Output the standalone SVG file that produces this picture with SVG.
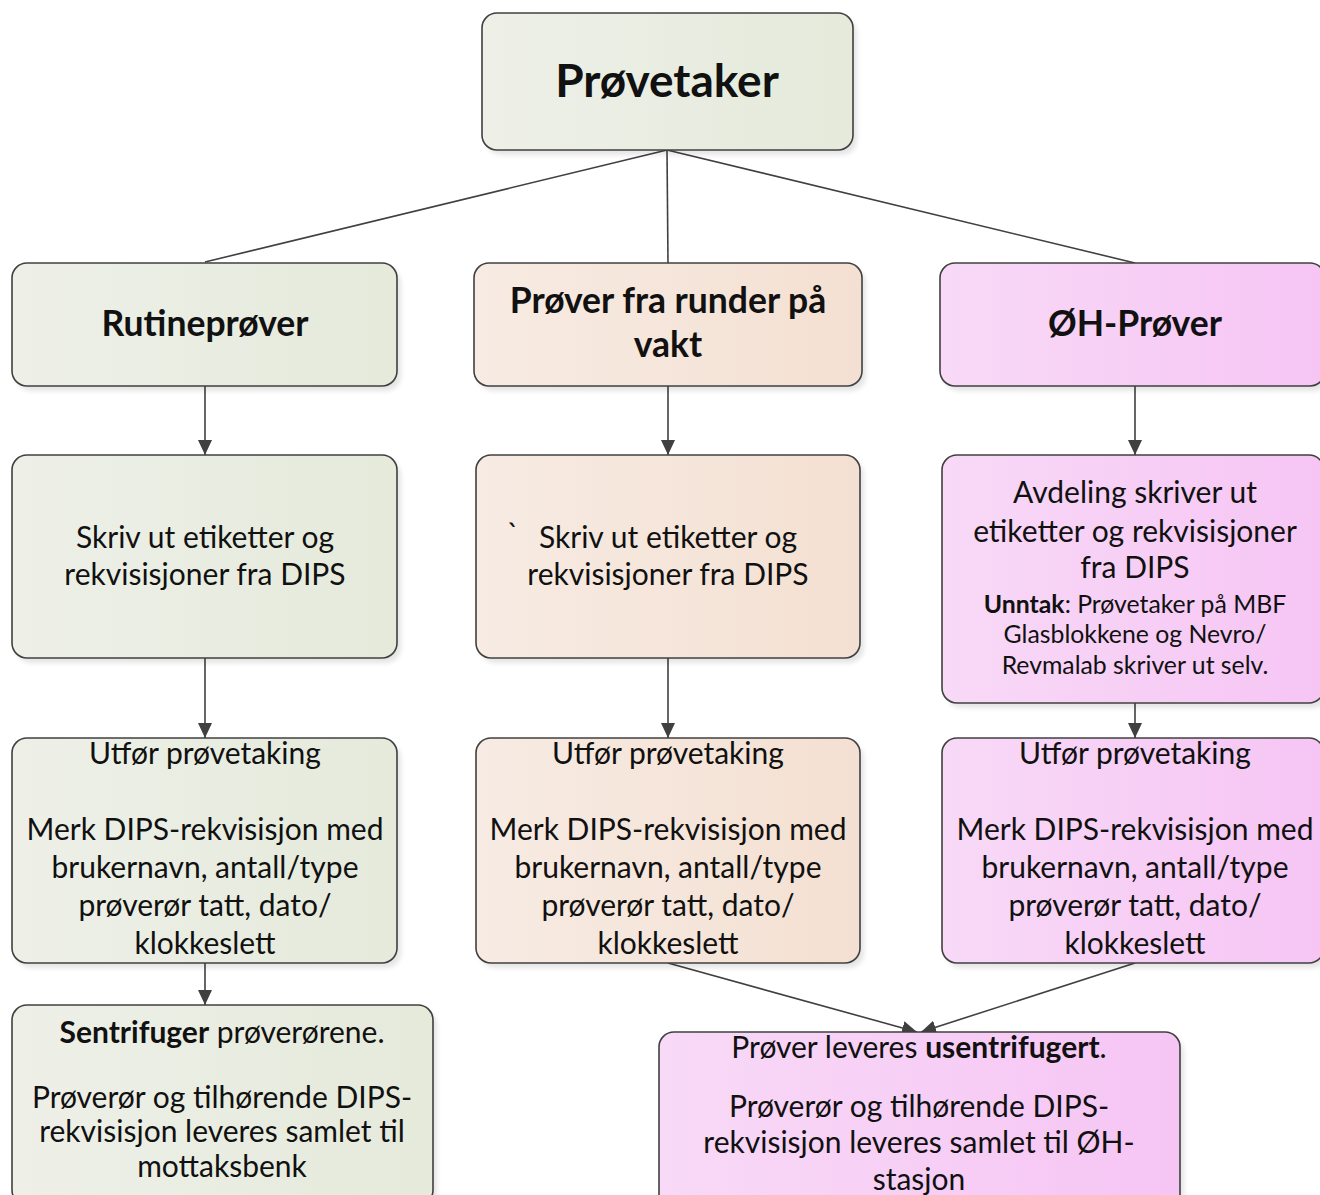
<svg xmlns="http://www.w3.org/2000/svg" width="1320" height="1195" viewBox="0 0 1320 1195">
<style>
.box{stroke:#404040;stroke-width:1.6}
.g{fill:url(#gGreen)}
.p{fill:url(#gPeach)}
.k{fill:url(#gPink)}
.sh{fill:#000;opacity:0.10;filter:url(#blur)}
text{font-family:Lato,"Noto Sans",sans-serif;fill:#111;text-anchor:middle}
.t{font-size:30px}
.s{font-size:24.8px}
.b{font-weight:bold}
.h1{font-size:46px;font-weight:bold}
.h2{font-size:35.5px;font-weight:bold}
.c{stroke:#404040;stroke-width:1.6;fill:none}
</style>
<defs>
<linearGradient id="gGreen" x1="0" y1="0" x2="1" y2="0"><stop offset="0" stop-color="#eef0e8"/><stop offset="1" stop-color="#e5eadb"/></linearGradient>
<linearGradient id="gPeach" x1="0" y1="0" x2="1" y2="0"><stop offset="0" stop-color="#f7ebe3"/><stop offset="1" stop-color="#f4e0d2"/></linearGradient>
<linearGradient id="gPink" x1="0" y1="0" x2="1" y2="0"><stop offset="0" stop-color="#f8d9f7"/><stop offset="1" stop-color="#f6c5f4"/></linearGradient>
<filter id="blur" x="-10%" y="-10%" width="120%" height="120%"><feGaussianBlur stdDeviation="2.5"/></filter>
<marker id="arr" markerUnits="userSpaceOnUse" markerWidth="16" markerHeight="16" viewBox="0 0 16 16" refX="15" refY="8" orient="auto"><path d="M0,1 L15,8 L0,15 Z" fill="#404040"/></marker>
</defs>

<g id="connectors">
<path class="c" d="M667,150 L205,262"/>
<path class="c" d="M667,150 L668,263"/>
<path class="c" d="M667,150 L1135,263"/>
<path class="c" marker-end="url(#arr)" d="M205,386 L205,455"/>
<path class="c" marker-end="url(#arr)" d="M668,386 L668,455"/>
<path class="c" marker-end="url(#arr)" d="M1135,386 L1135,455"/>
<path class="c" marker-end="url(#arr)" d="M205,658 L205,738"/>
<path class="c" marker-end="url(#arr)" d="M668,658 L668,738"/>
<path class="c" marker-end="url(#arr)" d="M1135,703 L1135,738"/>
<path class="c" marker-end="url(#arr)" d="M205,963 L205,1005"/>
<path class="c" marker-end="url(#arr)" d="M668,963 L917,1032"/>
<path class="c" marker-end="url(#arr)" d="M1135,963 L921,1032"/>
</g>

<g id="n-provetaker">
<rect class="sh" x="486" y="18" width="371" height="137" rx="15"/>
<rect class="box g" x="482" y="13" width="371" height="137" rx="15"/>
<text class="h1" x="667" y="97">Prøvetaker</text>
</g>

<g id="n-rutine">
<rect class="sh" x="16" y="268" width="385" height="123" rx="15"/>
<rect class="box g" x="12" y="263" width="385" height="123" rx="15"/>
<text class="h2" x="205" y="336">Rutineprøver</text>
</g>

<g id="n-runder">
<rect class="sh" x="478" y="268" width="388" height="123" rx="15"/>
<rect class="box p" x="474" y="263" width="388" height="123" rx="15"/>
<text class="h2" x="668" y="313">Prøver fra runder på</text>
<text class="h2" x="668" y="357">vakt</text>
</g>

<g id="n-oh">
<rect class="sh" x="944" y="268" width="385" height="123" rx="15"/>
<rect class="box k" x="940" y="263" width="385" height="123" rx="15"/>
<text class="h2" x="1135" y="336">ØH-Prøver</text>
</g>

<g id="n-skriv1">
<rect class="sh" x="16" y="460" width="385" height="203" rx="15"/>
<rect class="box g" x="12" y="455" width="385" height="203" rx="15"/>
<text class="t" x="205" y="548">Skriv ut etiketter og</text>
<text class="t" x="205" y="585">rekvisisjoner fra DIPS</text>
</g>

<g id="n-skriv2">
<rect class="sh" x="480" y="460" width="384" height="203" rx="15"/>
<rect class="box p" x="476" y="455" width="384" height="203" rx="15"/>
<text class="t" x="513" y="545">`</text>
<text class="t" x="668" y="548">Skriv ut etiketter og</text>
<text class="t" x="668" y="585">rekvisisjoner fra DIPS</text>
</g>

<g id="n-avdeling">
<rect class="sh" x="946" y="460" width="382" height="248" rx="15"/>
<rect class="box k" x="942" y="455" width="382" height="248" rx="15"/>
<text class="t" x="1135" y="503">Avdeling skriver ut</text>
<text class="t" x="1135" y="542">etiketter og rekvisisjoner</text>
<text class="t" x="1135" y="578">fra DIPS</text>
<text class="s" x="1135" y="613"><tspan class="b">Unntak</tspan>: Prøvetaker på MBF</text>
<text class="s" x="1135" y="643">Glasblokkene og Nevro/</text>
<text class="s" x="1135" y="674">Revmalab skriver ut selv.</text>
</g>

<g id="n-utfor1">
<rect class="sh" x="16" y="743" width="385" height="225" rx="15"/>
<rect class="box g" x="12" y="738" width="385" height="225" rx="15"/>
<text class="t" x="205" y="764">Utfør prøvetaking</text>
<text class="t" x="205" y="840">Merk DIPS-rekvisisjon med</text>
<text class="t" x="205" y="878">brukernavn, antall/type</text>
<text class="t" x="205" y="916">prøverør tatt, dato/</text>
<text class="t" x="205" y="954">klokkeslett</text>
</g>

<g id="n-utfor2">
<rect class="sh" x="480" y="743" width="384" height="225" rx="15"/>
<rect class="box p" x="476" y="738" width="384" height="225" rx="15"/>
<text class="t" x="668" y="764">Utfør prøvetaking</text>
<text class="t" x="668" y="840">Merk DIPS-rekvisisjon med</text>
<text class="t" x="668" y="878">brukernavn, antall/type</text>
<text class="t" x="668" y="916">prøverør tatt, dato/</text>
<text class="t" x="668" y="954">klokkeslett</text>
</g>

<g id="n-utfor3">
<rect class="sh" x="946" y="743" width="382" height="225" rx="15"/>
<rect class="box k" x="942" y="738" width="382" height="225" rx="15"/>
<text class="t" x="1135" y="764">Utfør prøvetaking</text>
<text class="t" x="1135" y="840">Merk DIPS-rekvisisjon med</text>
<text class="t" x="1135" y="878">brukernavn, antall/type</text>
<text class="t" x="1135" y="916">prøverør tatt, dato/</text>
<text class="t" x="1135" y="954">klokkeslett</text>
</g>

<g id="n-sentrifuger">
<rect class="sh" x="16" y="1010" width="421" height="200" rx="15"/>
<rect class="box g" x="12" y="1005" width="421" height="200" rx="15"/>
<text class="t" x="222" y="1043"><tspan class="b">Sentrifuger</tspan> prøverørene.</text>
<text class="t" x="222" y="1108">Prøverør og tilhørende DIPS-</text>
<text class="t" x="222" y="1142">rekvisisjon leveres samlet til</text>
<text class="t" x="222" y="1177">mottaksbenk</text>
</g>

<g id="n-usentrifugert">
<rect class="sh" x="663" y="1037" width="521" height="180" rx="15"/>
<rect class="box k" x="659" y="1032" width="521" height="180" rx="15"/>
<text class="t" x="919" y="1058">Prøver leveres <tspan class="b">usentrifugert</tspan>.</text>
<text class="t" x="919" y="1117">Prøverør og tilhørende DIPS-</text>
<text class="t" x="919" y="1153">rekvisisjon leveres samlet til ØH-</text>
<text class="t" x="919" y="1190">stasjon</text>
</g>
</svg>
